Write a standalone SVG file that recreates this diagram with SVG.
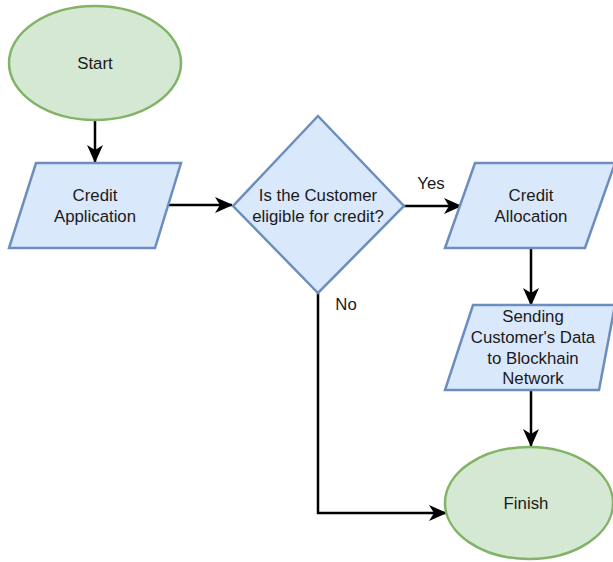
<svg xmlns="http://www.w3.org/2000/svg" width="613" height="562" viewBox="0 0 613 562">
<style>
.term{fill:#d5e8d4;stroke:#82b366;stroke-width:2.5}
.proc{fill:#dae8fc;stroke:#6c8ebf;stroke-width:2.5}
.edge{fill:none;stroke:#000;stroke-width:2.5}
text{font-family:"Liberation Sans",Arial,sans-serif;font-size:16.8px;fill:#1a1a1a;text-anchor:middle}
</style>
<defs>
<marker id="a" viewBox="0 0 18 18" refX="17" refY="9" markerWidth="18" markerHeight="18" markerUnits="userSpaceOnUse" orient="auto">
<path d="M0,1 L18,9 L0,17 L5,9 Z" fill="#000"/>
</marker>
</defs>
<g id="connectors">
<path class="edge" d="M95,120 L95,162" marker-end="url(#a)"/>
<path class="edge" d="M167,205 L232,205" marker-end="url(#a)"/>
<path class="edge" d="M404,206 L461,206" marker-end="url(#a)"/>
<path class="edge" d="M531,248 L531,305" marker-end="url(#a)"/>
<path class="edge" d="M531,390 L531,446" marker-end="url(#a)"/>
<path class="edge" d="M318,293 L318,513 L446,513" marker-end="url(#a)"/>
<text x="431" y="189">Yes</text>
<text x="346" y="310">No</text>
</g>
<g id="start">
<ellipse class="term" cx="95" cy="63" rx="86" ry="57"/>
<text x="95" y="69">Start</text>
</g>
<g id="credit-application">
<polygon class="proc" points="36,163 181,163 155,248 9,248"/>
<text x="95" y="201">Credit</text>
<text x="95" y="222">Application</text>
</g>
<g id="decision">
<polygon class="proc" points="318,116 404,206 318,293 233,206"/>
<text x="318" y="201">Is the Customer</text>
<text x="318" y="222">eligible for credit?</text>
</g>
<g id="credit-allocation">
<polygon class="proc" points="475,163 615,163 585,248 445,248"/>
<text x="531" y="201">Credit</text>
<text x="531" y="222">Allocation</text>
</g>
<g id="sending">
<polygon class="proc" points="473,305 615,305 599,390 445,390"/>
<text x="533" y="322">Sending</text>
<text x="533" y="343">Customer's Data</text>
<text x="533" y="364">to Blockhain</text>
<text x="533" y="384">Network</text>
</g>
<g id="finish">
<ellipse class="term" cx="529" cy="503" rx="84" ry="56"/>
<text x="526" y="509">Finish</text>
</g>
</svg>
